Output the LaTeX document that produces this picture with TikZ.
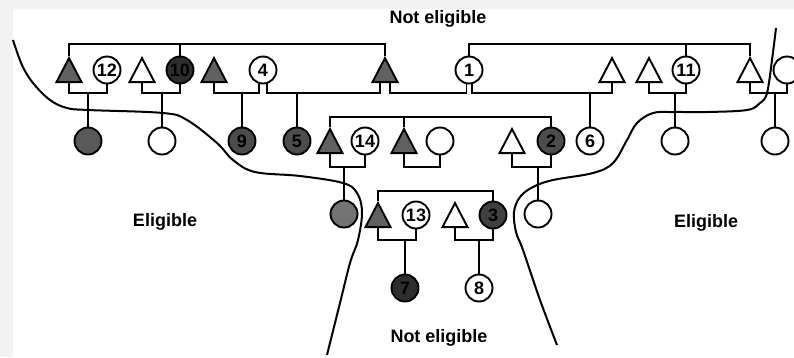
\documentclass[tikz,border=0pt]{standalone}
\usepackage{fontspec}
\setmainfont{Liberation Sans}
\usetikzlibrary{shapes.geometric}
\begin{document}
\begin{tikzpicture}[x=1pt,y=-1pt,line width=1.9pt,
  ind/.style={circle,draw,minimum size=27pt,inner sep=0pt,font=\bfseries\fontsize{18}{18}\selectfont},
  tri/.style={isosceles triangle,isosceles triangle stretches,shape border rotate=90,draw,
              minimum width=25pt,minimum height=24pt,inner sep=0pt,anchor=lower side},
  ftri/.style={tri,fill=black!62},
  lab/.style={font=\bfseries\fontsize{18}{20}\selectfont},
  bound/.style={line width=2pt}]
\useasboundingbox (0,0) rectangle (794,357);
\fill[black!5] (0,0) rectangle (794,9);
\fill[black!5] (0,0) rectangle (13,357);
% levels
\coordinate (sTop) at (0,44);
\coordinate (mTop) at (0,93);
\coordinate (sMid) at (0,117);
\coordinate (mMid) at (0,167);
\coordinate (sLow) at (0,191);
\coordinate (mLow) at (0,240);
% top row
\node[ftri] (T1) at (69,83) {};
\node[ind] (C12) at (107,70) {12};
\node[tri] (T2) at (142,83) {};
\node[ind,fill=black!82] (C10) at (180,70) {10};
\node[ftri] (T3) at (214,83) {};
\node[ind] (C4) at (263,70) {4};
\node[ftri] (T4) at (385,83) {};
\node[ind] (C1) at (469,70) {1};
\node[tri] (T5) at (612,83) {};
\node[tri] (T6) at (649,83) {};
\node[ind] (C11) at (686,70) {11};
\node[tri] (T7) at (750,83) {};
\node[ind] (C15) at (787,70) {};
% second row
\node[ind,fill=black!65] (CA) at (88,141) {};
\node[ind] (CB) at (162,141) {};
\node[ind,fill=black!70] (C9) at (242,141) {9};
\node[ind,fill=black!70] (C5) at (297,141) {5};
\node[ftri] (T8) at (330,154) {};
\node[ind] (C14) at (365,141) {14};
\node[ftri] (T9) at (404,154) {};
\node[ind] (CE) at (440,141) {};
\node[tri] (T10) at (512,154) {};
\node[ind,fill=black!70] (C2) at (551,141) {2};
\node[ind] (C6) at (590,141) {6};
\node[ind] (CC) at (675,141) {};
\node[ind] (CD) at (775,141) {};
% third row
\node[ind,fill=black!55] (CF) at (344,214) {};
\node[ftri] (T11) at (378,228) {};
\node[ind] (C13) at (416,215) {13};
\node[tri] (T12) at (455,228) {};
\node[ind,fill=black!75] (C3) at (493,215) {3};
\node[ind] (CG) at (538,214) {};
% fourth row
\node[ind,fill=black!82] (C7) at (405,288) {7};
\node[ind] (C8) at (479,288) {8};
% sibship lines
\draw (T1.apex) |- (sTop -| T4.apex) -- (T4.apex);
\draw (C10.north) -- (C10.north |- sTop);
\draw (C1.north) |- (sTop -| T7.apex) -- (T7.apex);
\draw (C11.north) -- (C11.north |- sTop);
\draw (T8.apex) |- (sMid -| C2.north) -- (C2.north);
\draw (T9.apex) -- (T9.apex |- sMid);
\draw (T11.apex) |- (sLow -| C3.north) -- (C3.north);
% marriage lines and children
\draw (T1.lower side) |- (CA.north |- mTop) -| (C12.south);
\draw (CA.north) -- (CA.north |- mTop);
\draw (T2.lower side) |- (CB.north |- mTop) -| (C10.south);
\draw (CB.north) -- (CB.north |- mTop);
\draw (T3.lower side) |- (C9.north |- mTop) -| (C4.-107);
\draw (C9.north) -- (C9.north |- mTop);
\draw (C4.-73) |- (C5.north |- mTop) -| ([xshift=-5pt]T4.lower side);
\draw (C5.north) -- (C5.north |- mTop);
\draw ([xshift=5pt]T4.lower side) |- (mTop -| C1.-100) -- (C1.-100);
\draw (C1.-78) |- (C6.north |- mTop) -| (T5.lower side);
\draw (C6.north) -- (C6.north |- mTop);
\draw (T6.lower side) |- (CC.north |- mTop) -| (C11.south);
\draw (CC.north) -- (CC.north |- mTop);
\draw (T7.lower side) |- (CD.north |- mTop) -| (C15.south);
\draw (CD.north) -- (CD.north |- mTop);
\draw (T8.lower side) |- (CF.north |- mMid) -| (C14.south);
\draw (CF.north) -- (CF.north |- mMid);
\draw (T9.lower side) |- (mMid -| CE.south) -- (CE.south);
\draw (T10.lower side) |- (CG.north |- mMid) -| (C2.south);
\draw (CG.north) -- (CG.north |- mMid);
\draw (T11.lower side) |- (C7.north |- mLow) -| (C13.south);
\draw (C7.north) -- (C7.north |- mLow);
\draw (T12.lower side) |- (C8.north |- mLow) -| (C3.south);
\draw (C8.north) -- (C8.north |- mLow);
% eligibility boundaries
\draw[bound] plot[smooth,tension=0.6] coordinates {(13,40) (22,65) (33,83) (50,100) (67,108) (88,110) (163,113) (187,120) (217,143) (233,160) (255,172) (300,176) (343,183) (357,193) (362,212) (358,240) (350,263) (340,303) (327,355)};
\draw[bound] plot[smooth,tension=0.6] coordinates {(776,28) (772,60) (767,93) (760,103) (747,110) (707,112) (673,112) (653,113) (637,123) (627,140) (613,163) (593,173) (553,180) (533,187) (520,197) (514,212) (516,232) (523,250) (540,300) (557,345)};
% labels
\node[lab] (ne1) at (438,19) {Not eligible};
\node[lab] (el1) at (165,222) {Eligible};
\node[lab] (el2) at (706,223) {Eligible};
\node[lab] (ne2) at (439,338) {Not eligible};
\end{tikzpicture}
\end{document}
